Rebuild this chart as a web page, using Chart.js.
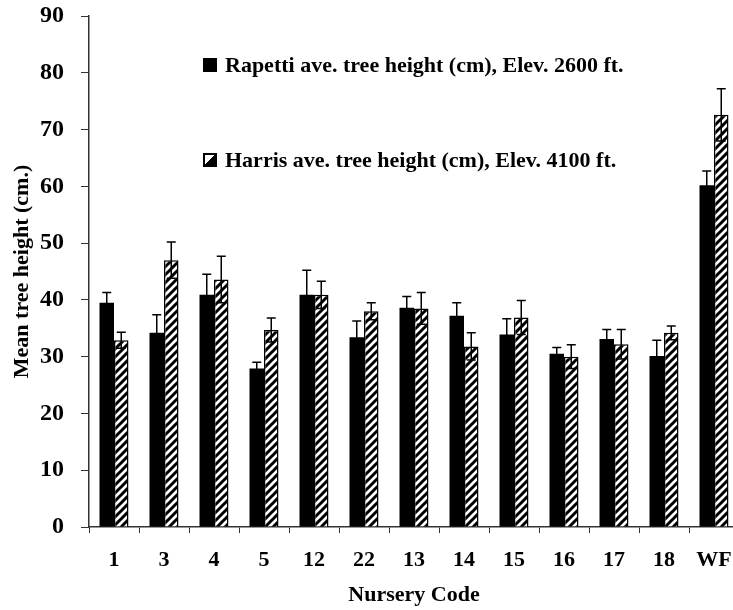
<!DOCTYPE html>
<html>
<head>
<meta charset="utf-8">
<title>Mean tree height by nursery</title>
<script src="https://cdn.jsdelivr.net/npm/chart.js@4.4.1/dist/chart.umd.min.js"></script>
<style>
  html, body { margin: 0; padding: 0; background: #fff; overflow: hidden; }
  #wrap { position: relative; width: 733px; height: 610px; overflow: hidden; }
  #grafico { position: absolute; left: 0; top: 0; }
  .leyenda {
    position: absolute; left: 203px; height: 22px;
    display: flex; align-items: center;
    font: bold 22px "Liberation Serif", "Times New Roman", serif;
    color: #000; white-space: nowrap;
  }
  .muestra { width: 14px; height: 14px; box-sizing: border-box; margin-right: 8px; }
  .negro { background: #000; }
  .rayado { border: 2px solid #000; background: linear-gradient(135deg, #fff 50%, #000 50%); }
</style>
</head>
<body>
<div id="wrap">
  <canvas id="grafico" width="740" height="610"></canvas>
  <div class="leyenda" style="top:54px"><span class="muestra negro"></span>Rapetti ave. tree height (cm), Elev. 2600 ft.</div>
  <div class="leyenda" style="top:149px"><span class="muestra rayado"></span>Harris ave. tree height (cm), Elev. 4100 ft.</div>
</div>
<script>
// datos
const viveros = ['1', '3', '4', '5', '12', '22', '13', '14', '15', '16', '17', '18', 'WF'];
const alturaRapetti = [39.5, 34.2, 40.9, 27.9, 40.9, 33.4, 38.6, 37.2, 33.9, 30.5, 33.1, 30.1, 60.2];
const errorRapetti  = [1.8, 3.2, 3.6, 1.1, 4.3, 2.9, 2.0, 2.3, 2.8, 1.1, 1.7, 2.8, 2.5];
const alturaHarris  = [32.9, 47.0, 43.6, 34.7, 40.9, 38.0, 38.5, 31.8, 36.9, 30.0, 32.2, 34.2, 72.6];
const errorHarris   = [1.4, 3.2, 4.1, 2.1, 2.4, 1.5, 2.8, 2.4, 3.0, 2.1, 2.6, 1.2, 4.6];
const marcasY = [0, 10, 20, 30, 40, 50, 60, 70, 80, 90];

const FAMILIA = '"Liberation Serif", "Times New Roman", serif';
const FUENTE = { family: FAMILIA, size: 22, weight: 'bold' };
const FUENTE_Y = { family: FAMILIA, size: 24, weight: 'bold' };

function crearRayado() {
  const c = document.createElement('canvas');
  c.width = 8; c.height = 8;
  const g = c.getContext('2d');
  g.fillStyle = '#fff';
  g.fillRect(0, 0, 8, 8);
  g.strokeStyle = '#000';
  g.lineWidth = 3;
  g.beginPath();
  g.moveTo(-2, 10); g.lineTo(10, -2);
  g.moveTo(-6, 6); g.lineTo(6, -6);
  g.moveTo(2, 14); g.lineTo(14, 2);
  g.stroke();
  return g.createPattern(c, 'repeat');
}

const barrasError = {
  id: 'barrasError',
  afterDatasetsDraw(chart) {
    const ctx = chart.ctx;
    const escalaY = chart.scales.y;
    ctx.save();
    ctx.strokeStyle = '#000';
    ctx.lineWidth = 1.5;
    chart.data.datasets.forEach((ds, i) => {
      const meta = chart.getDatasetMeta(i);
      meta.data.forEach((barra, j) => {
        const v = ds.data[j];
        const e = ds.errores[j];
        const arriba = escalaY.getPixelForValue(v + e);
        const abajo = escalaY.getPixelForValue(v - e);
        const x = barra.x;
        ctx.beginPath();
        ctx.moveTo(x, arriba); ctx.lineTo(x, abajo);
        ctx.moveTo(x - 4.5, arriba); ctx.lineTo(x + 4.5, arriba);
        ctx.moveTo(x - 4.5, abajo); ctx.lineTo(x + 4.5, abajo);
        ctx.stroke();
      });
    });
    ctx.restore();
  }
};

new Chart(document.getElementById('grafico'), {
  type: 'bar',
  data: {
    labels: viveros,
    datasets: [
      {
        label: 'Rapetti ave. tree height (cm), Elev. 2600 ft.',
        data: alturaRapetti,
        errores: errorRapetti,
        backgroundColor: '#000',
        borderWidth: 0
      },
      {
        label: 'Harris ave. tree height (cm), Elev. 4100 ft.',
        data: alturaHarris,
        errores: errorHarris,
        backgroundColor: crearRayado(),
        borderColor: '#000',
        borderWidth: 1.5
      }
    ]
  },
  options: {
    responsive: false,
    animation: false,
    categoryPercentage: 0.58,
    barPercentage: 1.0,
    layout: { padding: { top: 16, right: 1, left: 0, bottom: 0 } },
    plugins: {
      legend: { display: false },
      tooltip: { enabled: false }
    },
    scales: {
      x: {
        grid: { drawOnChartArea: false, drawTicks: true, tickLength: 6, color: '#333', offset: true },
        border: { color: '#333', width: 1.5 },
        ticks: { color: '#000', font: FUENTE, padding: 14 },
        title: { display: true, text: 'Nursery Code', color: '#000', font: FUENTE, padding: { top: 0, bottom: 1 } },
        afterFit(s) { s.height = 83; s.paddingLeft = 0; s.paddingRight = 0; }
      },
      y: {
        min: 0,
        max: 90,
        afterBuildTicks(s) { s.ticks = marcasY.map(v => ({ value: v })); },
        grid: { drawOnChartArea: false, drawTicks: true, tickLength: 8, color: '#333' },
        border: { color: '#333', width: 1.5 },
        ticks: { color: '#000', font: FUENTE_Y, padding: 17 },
        title: { display: true, text: 'Mean tree height (cm.)', color: '#000', font: FUENTE, padding: { top: 9, bottom: 0 } },
        // la escala queda fija: 90 arriba en y=16, 0 sobre el eje x
        afterFit(s) { s.width = 89; s.paddingTop = 0; s.paddingBottom = 0; }
      }
    }
  },
  plugins: [barrasError]
});
</script>
</body>
</html>
